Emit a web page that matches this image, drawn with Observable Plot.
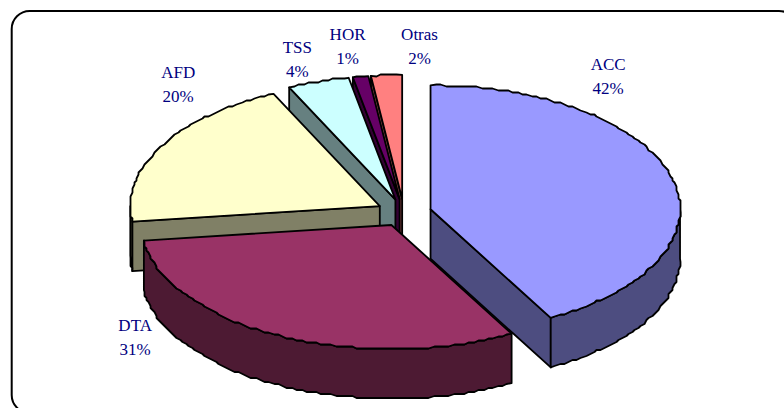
<!DOCTYPE html>
<html><head><meta charset="utf-8">
<script src="https://cdn.jsdelivr.net/npm/d3@7"></script>
<script src="https://cdn.jsdelivr.net/npm/@observablehq/plot@0.6"></script>
<style>html,body{margin:0;padding:0;background:#fff}svg{display:block}</style>
</head><body><div id="chart"></div>
<script>
// Data
const names = ["ACC","DTA","AFD","TSS","HOR","Otras"];
const shares = [42,31,20,4,1,2];
const topColors = ["#9999FF","#993366","#FFFFCC","#CCFFFF","#660066","#FF8080"];
const sideColors = ["#4D4D80","#4D1A33","#808066","#668080","#330033","#804040"];

// Pie layout
const cx=403.4, cy=212.2, rx=249.5, ry=124, pullX=27.5, pullY=13.8, depth=49.5;
const labelNudge = {ACC:[-64,-104],DTA:[-143,0],AFD:[17,-64],TSS:[-21,-24],HOR:[-13,-32.5],Otras:[33,-31]};
const rad = d=>d*Math.PI/180;
const snap = v=>Math.round(v/2)*2;
const total = d3.sum(shares);
let acc=0;
const slices = names.map((name,i)=>{
  const a0=acc/total*360; acc+=shares[i]; const a1=acc/total*360; const m=(a0+a1)/2;
  const ax=cx+pullX*Math.sin(rad(m)), ay=cy-pullY*Math.cos(rad(m));
  const rim=a=>({x:ax+rx*Math.sin(rad(a)),y:ay-ry*Math.cos(rad(a))});
  // the outline is a little stepped, as in the original low-resolution drawing
  const arcBetween=(p,q)=>{
    const n=Math.max(2,Math.ceil((q-p)/1.2));
    return d3.range(n+1).map(k=>{
      const r=rim(p+(q-p)*k/n);
      return (k===0||k===n)?r:{x:snap(r.x),y:snap(r.y)};
    });
  };
  return {name,i,share:shares[i],a0,a1,m,ax,ay,rim,arcBetween,arc:arcBetween(a0,a1)};
});
const down=p=>({x:p.x,y:p.y+depth});
const poly=(pts,fill)=>Plot.line([...pts,pts[0]],{x:"x",y:"y",fill,stroke:"#000",strokeWidth:1.8,strokeLinejoin:"round"});
const faces=t=>Math.cos(rad(t))<-1e-6;
function sliceMarks(s){
  const apex={x:s.ax,y:s.ay}, st=s.arc[0], en=s.arc[s.arc.length-1], side=sideColors[s.i], out=[];
  if(faces(s.a0-90)) out.push(poly([apex,st,down(st),down(apex)],side));
  if(faces(s.a1+90)) out.push(poly([apex,en,down(en),down(apex)],side));
  const p=Math.max(s.a0,90), q=Math.min(s.a1,270);
  if(q>p){
    const f=s.arcBetween(p,q);
    out.push(poly([...f,...f.slice().reverse().map(down)],side));
  }
  out.push(poly([apex,...s.arc],topColors[s.i]));
  return out;
}
const order=[5,4,3,2,1,0];
const marks=[
  Plot.rect([{x1:11.7,x2:797,y1:11,y2:413}],{x1:"x1",x2:"x2",y1:"y1",y2:"y2",fill:"#fff",stroke:"#000",strokeWidth:2,rx:18}),
  ...order.flatMap(i=>sliceMarks(slices[i])),
  ...slices.map(s=>{
    const p=s.rim(s.m), [dx,dy]=labelNudge[s.name];
    return Plot.text([p],{x:"x",y:"y",dx,dy,text:()=>`${s.name}\n${s.share}%`,fontFamily:"Liberation Serif",fontSize:17,lineHeight:24/17,fill:"#000080",textAnchor:"middle",lineAnchor:"middle"});
  })
];
document.getElementById("chart").append(Plot.plot({
  width:784,height:408,margin:0,
  x:{domain:[0,784],range:[0,784],axis:null},
  y:{domain:[0,408],range:[0,408],axis:null},
  marks
}));
</script></body></html>
